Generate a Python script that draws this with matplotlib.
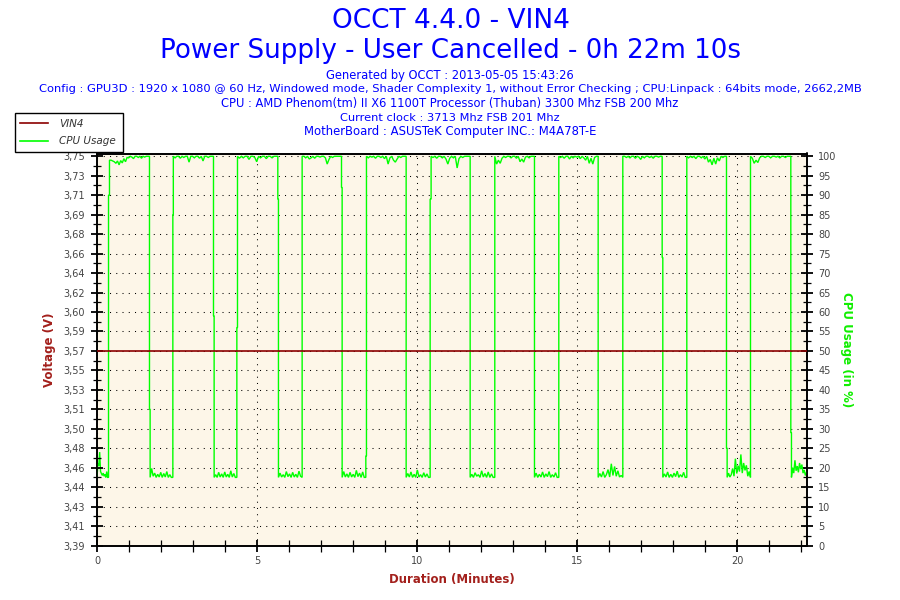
import numpy as np
import matplotlib
matplotlib.use("Agg")
import matplotlib.pyplot as plt
from matplotlib.lines import Line2D
from matplotlib.ticker import FixedLocator, MultipleLocator

# ---------------- data ----------------
title_1 = "OCCT 4.4.0 - VIN4"
title_2 = "Power Supply - User Cancelled - 0h 22m 10s"
info_lines = [
    "Generated by OCCT : 2013-05-05 15:43:26",
    "Config : GPU3D : 1920 x 1080 @ 60 Hz, Windowed mode, Shader Complexity 1, without Error Checking ; CPU:Linpack : 64bits mode, 2662,2MB",
    "CPU : AMD Phenom(tm) II X6 1100T Processor (Thuban) 3300 Mhz FSB 200 Mhz",
    "Current clock : 3713 Mhz FSB 201 Mhz",
    "MotherBoard : ASUSTeK Computer INC.: M4A78T-E",
]

duration_min = 22.17
vin4_time = [0.0, 22.17]
vin4_volt = [3.57, 3.57]

volt_tick_labels = ['3,39', '3,41', '3,43', '3,44', '3,46', '3,48', '3,50', '3,51',
                    '3,53', '3,55', '3,57', '3,59', '3,60', '3,62', '3,64', '3,66',
                    '3,68', '3,69', '3,71', '3,73', '3,75']
volt_min, volt_max = 3.39, 3.75
cpu_tick_labels = [str(v) for v in range(0, 101, 5)]
x_tick_labels = ['0', '5', '10', '15', '20']

# CPU usage log: segment boundaries (minutes) and the samples read in each segment
cpu_bounds = [0.00, 0.36, 0.39, 1.64, 1.66, 2.37, 2.385, 3.64, 3.66, 4.37, 4.39,
              5.65, 5.67, 6.41, 7.64, 7.66, 8.40, 8.42, 9.66, 10.41, 10.44, 11.66,
              12.43, 13.67, 14.43, 15.66, 16.43, 17.66, 17.68, 18.43, 19.67, 19.69,
              20.42, 21.68, 21.70, 22.17]
cpu_segments = [
    [17.5, 21, 20.5, 24, 19, 18.5, 18, 18.6, 17.8, 18.3, 17.5, 19, 17.5, 17.5],
    [90, 90],
    [99, 99, 98.8, 98.6, 98.2, 98.8, 97.8, 98.9, 98.3, 99.4, 98.6, 99.7, 99.6, 100,
     99.8, 99.4, 100, 100, 99.7, 100, 99.5, 100, 99.8, 100, 100, 100],
    [35, 35],
    [17.5, 19.8, 17.8, 18.6, 17.5, 18.3, 17.6, 18.8, 17.5, 18.5, 17.6, 19, 17.5, 18.2, 17.5, 17.5],
    [85, 85],
    [100, 99.6, 100, 100, 99.5, 100, 99.7, 100, 100, 98.5, 100, 100, 99.6, 100, 100,
     99.5, 100, 98.8, 100, 100, 99.7, 100, 100, 100],
    [59, 59],
    [17.5, 18.2, 17.5, 18.8, 17.6, 18.4, 17.5, 18.9, 17.6, 18.3, 17.5, 19.2, 17.6, 18.5, 17.5, 17.5],
    [56, 56],
    [100, 99.5, 100, 99.6, 100, 100, 99.2, 100, 100, 99.7, 98.6, 100, 99.6, 100, 100,
     99.4, 100, 100, 99.6, 100, 100, 100],
    [89, 89],
    [17.5, 18.6, 17.6, 18.2, 17.5, 19, 17.7, 18.4, 17.5, 18.8, 17.6, 18.3, 17.5, 19.1, 17.8, 17.5],
    [100, 100, 99.6, 100, 99.3, 99.6, 100, 99.5, 100, 100, 99.8, 100, 100, 99.6, 98,
     99.2, 100, 99.7, 100, 100, 100, 100, 100],
    [92, 92],
    [17.5, 19, 17.6, 18.4, 17.5, 18.8, 17.6, 18.3, 17.5, 19.3, 17.7, 18.6, 17.5, 18.9, 17.5, 17.5],
    [23, 23],
    [100, 99.6, 100, 99.8, 100, 99.5, 100, 100, 99.7, 100, 99.4, 100, 98, 99.6, 100,
     99, 98.5, 99.3, 100, 99.7, 100, 100, 100],
    [17.5, 18.5, 17.6, 18.9, 17.5, 18.3, 17.5, 19.4, 17.6, 18.2, 17.5, 18.7, 17.6, 18.4, 17.5, 17.5],
    [89, 89],
    [100, 99.7, 100, 99.5, 100, 100, 99.6, 100, 99.3, 98, 99.5, 100, 99.6, 100, 97,
     99.4, 100, 99.7, 100, 100, 100, 100],
    [17.5, 18.3, 17.5, 18.7, 17.8, 18.2, 17.5, 19.2, 17.6, 18.5, 17.5, 18.9, 17.5, 18.4, 17.5, 17.5],
    [100, 98, 99, 98.2, 99.5, 100, 99.7, 100, 100, 99.6, 100, 100, 99.5, 100, 98.6,
     99.3, 98.5, 99.8, 100, 99.6, 100, 100, 100],
    [17.5, 18.6, 17.5, 18.3, 17.6, 18.9, 17.5, 18.4, 17.7, 19, 17.5, 18.2, 17.6, 18.7, 17.5, 17.5],
    [100, 99.7, 100, 99.5, 100, 100, 99.3, 100, 99.6, 100, 99.8, 100, 99.4, 100, 99.6,
     99, 100, 98.2, 99.5, 98, 99.7, 100, 100],
    [17.5, 18.5, 17.6, 19, 17.5, 18.2, 19.5, 17.6, 21, 18, 20.3, 17.8, 19.2, 17.6, 18, 17.5],
    [100, 100, 99.7, 100, 99.6, 100, 100, 99.5, 100, 99.8, 99.2, 100, 99.6, 100, 100,
     99.7, 100, 99.5, 100, 100, 99.8, 100, 100],
    [74, 74],
    [17.5, 18.4, 17.6, 18.9, 17.5, 18.3, 17.5, 18.6, 17.7, 19.1, 17.5, 18.2, 17.6, 18.8, 17.5, 17.5],
    [100, 99.6, 100, 99.7, 100, 99.4, 100, 100, 99.6, 100, 99.3, 100, 98.5, 99.2, 97.8,
     99.5, 98, 99.6, 98.8, 100, 99.7, 100, 100],
    [25, 25],
    [17.5, 18.6, 17.6, 18.2, 19.8, 17.8, 22.3, 18.5, 20.5, 19, 23.4, 18.6, 21.2, 19.3, 20.6, 17.8, 19, 17.5],
    [100, 99.5, 98.2, 99, 98.4, 99.6, 100, 100, 99.7, 100, 100, 99.6, 100, 100, 99.8,
     100, 99.6, 100, 100, 99.7, 100, 100, 100],
    [29, 29],
    [17.5, 20, 18.6, 21.9, 19.2, 20.4, 18.8, 21.2, 19.6, 20.8, 18.6, 19.4, 18, 18.8],
]

# ---------------- style ----------------
BLUE = '#0000FF'
DARKRED = '#8B0000'
LABELRED = '#A3201C'
GREEN = '#00FF00'
BG = '#FDF6E8'
TICKCOL = '#444444'

W, H = 900, 600
fig = plt.figure(figsize=(9, 6), dpi=100, facecolor='white')

# axes box in pixels
L_px, R_px, T_px, B_px = 97, 806.5, 153.5, 545.5
ax = fig.add_axes([L_px / W, 1 - B_px / H, (R_px - L_px) / W, (B_px - T_px) / H])
ax.set_facecolor(BG)

k = (B_px - T_px) / (B_px - 156.3)  # small headroom above 100 %

# CPU (bottom layer, right axis)
cpu_t = []
cpu_v = []
for i, seg in enumerate(cpu_segments):
    tt = np.linspace(cpu_bounds[i], cpu_bounds[i + 1], len(seg))
    cpu_t.extend(tt)
    cpu_v.extend(seg)
ax.plot(cpu_t, cpu_v, color=GREEN, lw=1.0, solid_joinstyle='miter', zorder=3)
ax.set_ylim(0, 100 * k)
ax.set_xlim(0, duration_min)

ax2 = ax.twinx()
ax.yaxis.tick_right()
ax.yaxis.set_label_position('right')
ax2.yaxis.tick_left()
ax2.yaxis.set_label_position('left')
ax.set_zorder(1)
ax2.set_zorder(2)
ax2.patch.set_visible(False)

ax2.plot(vin4_time, vin4_volt, color=DARKRED, lw=1.2, zorder=4)
ax2.set_ylim(volt_min, volt_min + (volt_max - volt_min) * k)

# ticks
cpu_ticks = np.arange(0, 101, 5)
ax.yaxis.set_major_locator(FixedLocator(cpu_ticks))
ax.set_yticklabels(cpu_tick_labels)
ax.yaxis.set_minor_locator(FixedLocator(cpu_ticks[:-1] + 2.5))

volt_ticks = np.linspace(volt_min, volt_max, len(volt_tick_labels))
ax2.yaxis.set_major_locator(FixedLocator(volt_ticks))
ax2.set_yticklabels(volt_tick_labels)
step = volt_ticks[1] - volt_ticks[0]
ax2.yaxis.set_minor_locator(FixedLocator(volt_ticks[:-1] + step / 2))

ax.xaxis.set_major_locator(FixedLocator([0, 5, 10, 15, 20]))
ax.set_xticklabels(x_tick_labels)
ax.xaxis.set_minor_locator(MultipleLocator(1))

for a in (ax, ax2):
    a.tick_params(which='major', direction='inout', length=9, width=1.3,
                  color='black', labelcolor=TICKCOL, labelsize=7)
    a.tick_params(which='minor', direction='inout', length=6, width=0.9, color='black')
ax.tick_params(axis='y', which='major', pad=4)
ax2.tick_params(axis='y', which='major', pad=4)
ax.tick_params(axis='x', which='major', pad=3)
ax.tick_params(axis='x', which='minor', length=8)

for a in (ax, ax2):
    for s in a.spines.values():
        s.set_color('black')
        s.set_linewidth(1.2)

# grid (dotted)
ax.grid(True, which='major', axis='both', color='black', linestyle=(0, (1, 5)),
        linewidth=0.75)
ax.set_axisbelow(True)

# axis labels
ax2.set_ylabel('Voltage (V)', color=LABELRED, fontweight='bold', fontsize=8.5, labelpad=5)
ax.set_ylabel('CPU Usage (in %)', color='#11EE00', fontweight='bold', fontsize=8.5,
              rotation=-90, labelpad=12)
ax.set_xlabel('Duration (Minutes)', color=LABELRED, fontweight='bold', fontsize=8.5,
              labelpad=5)

# header texts, fitted to reference widths
fig.canvas.draw()
renderer = fig.canvas.get_renderer()


def fit_text(x, y, s, width_px, **kw):
    t = fig.text(x / W, 1 - y / H, s, ha='center', va='center', **kw)
    bb = t.get_window_extent(renderer)
    t.set_fontsize(t.get_fontsize() * width_px / bb.width)
    return t


fit_text(451, 21, title_1, 238, color=BLUE, fontsize=20)
fit_text(451, 51, title_2, 580, color=BLUE, fontsize=20)
info_y = [75, 89.5, 104, 118, 132]
info_w = [248, 822, 460, 220, 294]
for s, y, w in zip(info_lines, info_y, info_w):
    fit_text(450, y, s, w, color=BLUE, fontsize=8)

# legend
handles = [Line2D([], [], color=DARKRED, lw=1.2), Line2D([], [], color=GREEN, lw=1.2)]
leg = fig.legend(handles, ['VIN4', 'CPU Usage'], loc='upper left',
                 bbox_to_anchor=(15 / W, 1 - 114 / H, 108 / W, 0.001), mode='expand',
                 frameon=True, fancybox=False, shadow=False, borderaxespad=0,
                 prop={'style': 'italic', 'size': 7.5}, handlelength=2.7,
                 handletextpad=1.0, labelspacing=0.75, borderpad=0.5)
leg.get_frame().set_edgecolor('black')
leg.get_frame().set_linewidth(1.0)
leg.get_frame().set_facecolor('white')
leg.get_frame().set_alpha(1)
for t in leg.get_texts():
    t.set_color('#333333')
leg.set_zorder(10)

fig.savefig('out.png', dpi=100, facecolor='white')
